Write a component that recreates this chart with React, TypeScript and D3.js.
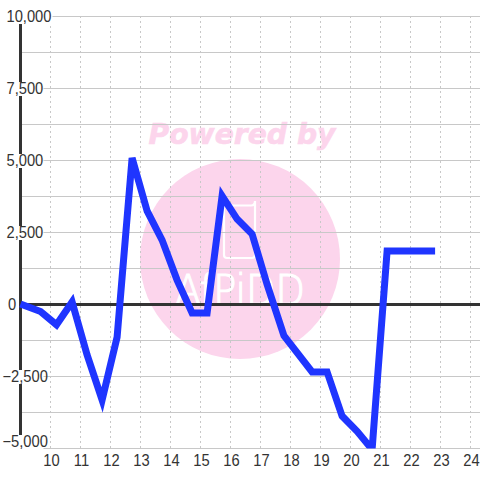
import React from "react";
import * as d3 from "d3";

const hours = [9, 9.67, 10.2, 10.72, 11.22, 11.72, 12.22, 12.72, 13.22, 13.72, 14.22, 14.72, 15.22, 15.72, 16.22, 16.72, 17.22, 17.78, 18.72, 19.22, 19.72, 20.22, 20.72, 21.22, 21.72, 22.22, 22.82];
const values = [0, -260, -720, 70, -1770, -3330, -1150, 5070, 3230, 2220, 830, -310, -310, 3750, 2950, 2430, 680, -1100, -2360, -2360, -3890, -4420, -5050, 1840, 1840, 1840, 1840];
const yTicks = [10000, 8750, 7500, 6250, 5000, 3750, 2500, 1250, 0, -1250, -2500, -3750, -5000];
const yLabels = [10000, 7500, 5000, 2500, 0, -2500, -5000];
const xTicks = [10, 11, 12, 13, 14, 15, 16, 17, 18, 19, 20, 21, 22, 23, 24];

const FONT = "'Liberation Sans', Arial, sans-serif";

export default function App() {
  const x = d3.scaleLinear().domain([10, 24]).range([50.5, 470.5]);
  const y = d3.scaleLinear().domain([10000, -5000]).range([16, 448]);
  const line = d3.line<number>().x((_, i) => x(hours[i])).y((d) => y(d));
  const fmt = d3.format(",");
  return (
    <svg width={480} height={480} style={{ position: "absolute", left: 0, top: 0 }} fontFamily={FONT}>
      <defs>
        <clipPath id="plot"><rect x={0} y={16} width={480} height={432.5} /></clipPath>
      </defs>
      <rect width={480} height={480} fill="#fff" />
      <circle cx={240} cy={259} r={100} fill="#fcd5ec" />
      <text x={242} y={144} textAnchor="middle" fontSize={28} fontWeight="bold" fontStyle="italic" fontFamily="'DejaVu Sans'" textLength={187} lengthAdjust="spacingAndGlyphs" fill="#fcd5ec" stroke="#fcd5ec" strokeWidth={0.6}>Powered by</text>
      <path d="M227 205.500 h24 q4 0 4 -4.500 v54 q0 3 -3 3 h-25 q-3 0 -3 -3 v-47 q0 -3 3 -2.500 z" fill="none" stroke="#fff" strokeWidth={2.2} />
      <text x={240} y={305} textAnchor="middle" fontSize={43} fill="#fff" stroke="#fff" strokeWidth={1.2} fontFamily="'DejaVu Sans'" fontWeight={200} textLength={130} lengthAdjust="spacingAndGlyphs">AfPiDD</text>
      {xTicks.map((t) => (
        <line key={t} x1={x(t)} x2={x(t)} y1={16} y2={448} stroke="#c8c8c8" strokeDasharray="2 3" />
      ))}
      {yTicks.map((t) => (
        <line key={t} x1={20} x2={480} y1={y(t) + 0.5} y2={y(t) + 0.5} stroke="#c8c8c8" />
      ))}
      <line x1={20.5} x2={20.5} y1={16} y2={448} stroke="#333" strokeWidth={3} />
      <line x1={20} x2={480} y1={y(0) + 0.5} y2={y(0) + 0.5} stroke="#333" strokeWidth={3} />
      {yLabels.map((t) => {
        const s = fmt(t);
        const lx = t < 0 ? 2.5 : t === 0 ? 8 : 6.5;
        const w = t === 10000 ? 47 : t < 0 ? 42 : t === 0 ? 9 : 38;
        const base = t === -5000 ? 447 : y(t) + 6;
        return (
          <g key={t}>
            <rect x={lx - 1} y={base - 12} width={w} height={14} fill="#fff" />
            <text transform={`translate(${lx},${base}) scale(0.92,1)`} fontSize={16} fill="#333">{s}</text>
          </g>
        );
      })}
      {xTicks.map((t) => (
        <text key={t} transform={`translate(${x(t) + 1},466) scale(0.92,1)`} textAnchor="middle" fontSize={16} fill="#333">{t}</text>
      ))}
      <path d={line(values) ?? ""} fill="none" stroke="#1f35ff" strokeWidth={7} strokeLinejoin="miter" clipPath="url(#plot)" />
    </svg>
  );
}
